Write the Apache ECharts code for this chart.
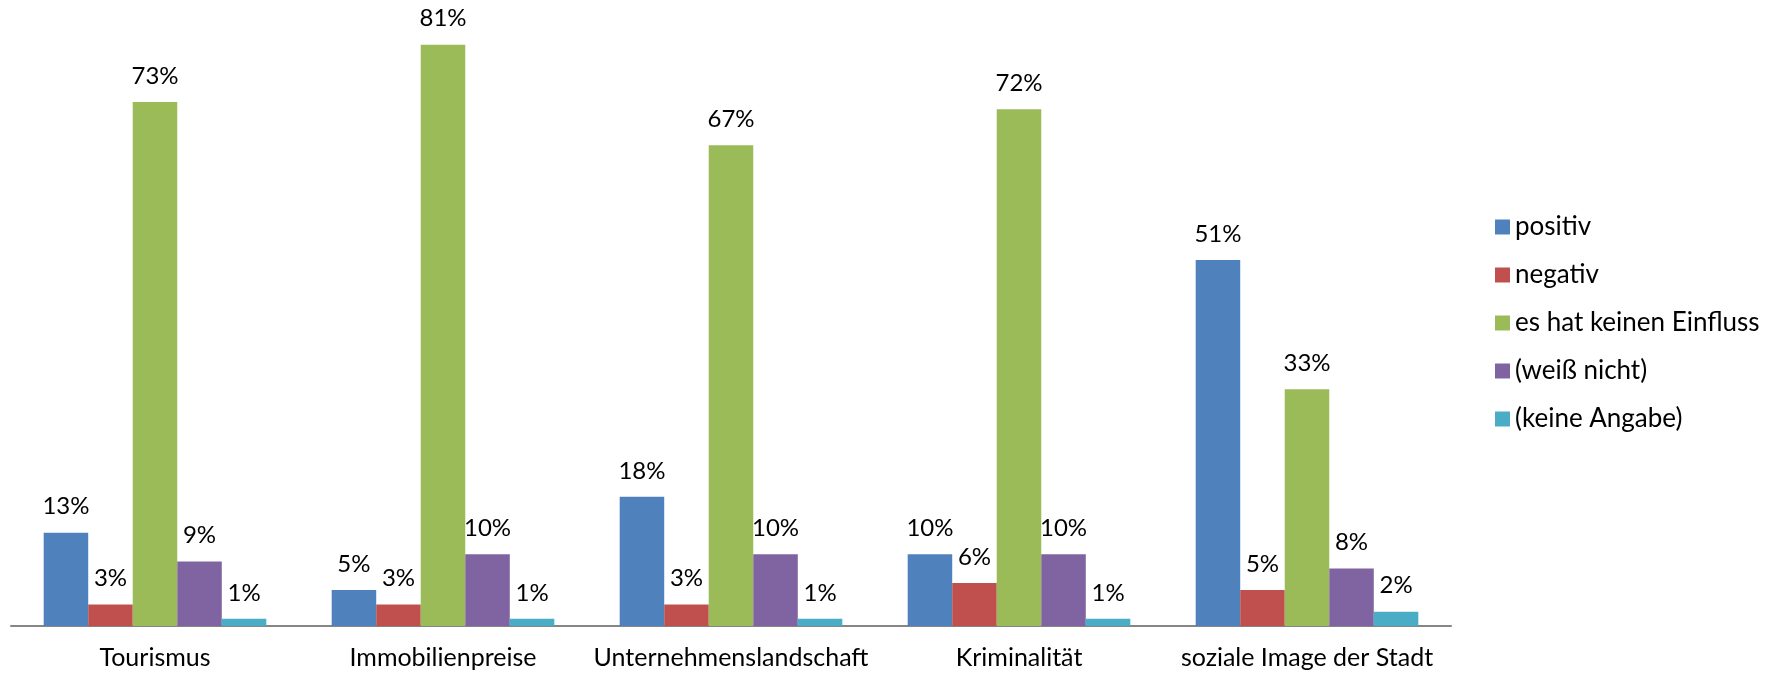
<!DOCTYPE html>
<html>
<head>
<meta charset="utf-8">
<script src="https://cdn.jsdelivr.net/npm/echarts@6/dist/echarts.min.js"></script>
<style>
  html, body { margin: 0; padding: 0; background: #fff; }
  #chart { width: 1765px; height: 673px; }
</style>
</head>
<body>
<div id="chart"></div>
<script>
// Kategorien und Werte (Prozent)
var categories = ['Tourismus', 'Immobilienpreise', 'Unternehmenslandschaft', 'Kriminalität', 'soziale Image der Stadt'];
var positiv = [13, 5, 18, 10, 51];
var negativ = [3, 3, 3, 6, 5];
var keinEinfluss = [73, 81, 67, 72, 33];
var weissNicht = [9, 10, 10, 10, 8];
var keineAngabe = [1, 1, 1, 1, 2];

var seriesNames = ['positiv', 'negativ', 'es hat keinen Einfluss', '(weiß nicht)', '(keine Angabe)'];
var seriesData = [positiv, negativ, keinEinfluss, weissNicht, keineAngabe];
var colors = ['#4F81BD', '#C0504D', '#9BBB59', '#8064A2', '#4BACC6'];

var font = 'Lato';
var myChart = echarts.init(document.getElementById('chart'));

var series = seriesNames.map(function (name, i) {
  return {
    name: name,
    type: 'bar',
    barGap: '0%',
    barCategoryGap: '22.7%',
    data: seriesData[i],
    itemStyle: { color: colors[i] },
    label: {
      show: true,
      position: 'top',
      distance: 14,
      formatter: '{c}%',
      color: '#000',
      fontFamily: font,
      fontSize: 24
    }
  };
});

var option = {
  animation: false,
  color: colors,
  grid: { left: 11, right: 314, top: 16, bottom: 47 },
  legend: {
    orient: 'vertical',
    left: 1495,
    top: 214,
    padding: 0,
    itemWidth: 15,
    itemHeight: 15,
    itemGap: 22,
    icon: 'rect',
    textStyle: { color: '#000', fontFamily: font, fontSize: 26, lineHeight: 26 },
    data: seriesNames
  },
  xAxis: {
    type: 'category',
    data: categories,
    axisLine: { lineStyle: { color: '#868686', width: 2 } },
    axisTick: { show: false },
    axisLabel: { color: '#000', fontFamily: font, fontSize: 25, margin: 19, interval: 0 }
  },
  yAxis: {
    type: 'value',
    min: 0,
    max: 85,
    show: false,
    splitLine: { show: false }
  },
  series: series
};
myChart.setOption(option);
</script>
</body>
</html>
